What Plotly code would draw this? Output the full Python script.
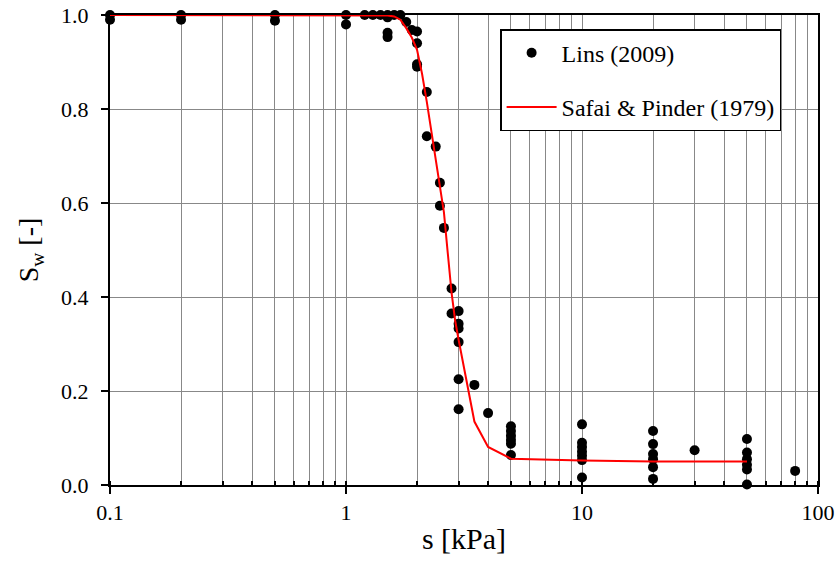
import plotly.graph_objects as go

# Measured data (Lins 2009)
lins_s = [0.1, 0.1, 0.2, 0.2, 0.5, 0.5, 1.0, 1.0,
          1.2, 1.3, 1.4, 1.5, 1.5, 1.6, 1.7, 1.5, 1.5, 1.8,
          1.9, 2.0, 2.0, 2.0, 2.0, 2.2, 2.2, 2.4, 2.5, 2.5, 2.6,
          2.8, 2.8, 3.0, 3.0, 3.0, 3.0, 3.0, 3.0, 3.5, 4.0,
          5, 5, 5, 5, 5, 5,
          10, 10, 10, 10, 10, 10, 10,
          20, 20, 20, 20, 20, 20,
          30,
          50, 50, 50, 50, 50, 50,
          80]
lins_sw = [1.0, 0.99, 1.0, 0.99, 1.0, 0.988, 1.0, 0.98,
           1.0, 1.0, 1.0, 1.0, 0.995, 1.0, 1.0, 0.962, 0.953, 0.985,
           0.968, 0.965, 0.94, 0.895, 0.89, 0.836, 0.742, 0.72, 0.643, 0.594, 0.547,
           0.418, 0.365, 0.37, 0.343, 0.333, 0.304, 0.225, 0.161, 0.213, 0.153,
           0.125, 0.115, 0.105, 0.096, 0.088, 0.064,
           0.129, 0.09, 0.081, 0.071, 0.062, 0.053, 0.016,
           0.115, 0.087, 0.066, 0.055, 0.038, 0.013,
           0.074,
           0.098, 0.069, 0.055, 0.043, 0.033, 0.001,
           0.03]

# Model curve (Safai & Pinder 1979)
model_s = [0.1, 0.2, 0.5, 1.0, 1.2, 1.4, 1.5, 1.6, 1.7, 1.8, 1.9, 2.0, 2.1, 2.2,
           2.3, 2.4, 2.5, 2.6, 2.7, 2.8, 2.9, 3.0, 3.5, 4.0, 5.0, 10, 20, 50]
model_sw = [1.0, 1.0, 1.0, 1.0, 1.0, 1.0, 0.999, 0.997, 0.99, 0.972, 0.952, 0.926,
            0.875, 0.815, 0.755, 0.695, 0.635, 0.58, 0.493, 0.41, 0.35, 0.309,
            0.135, 0.081, 0.056, 0.052, 0.05, 0.05]

x_tickvals = [0.1, 1, 10, 100]
x_ticktext = ["0.1", "1", "10", "100"]
y_tickvals = [0.0, 0.2, 0.4, 0.6, 0.8, 1.0]

font_family = "Liberation Serif"

fig = go.Figure()
fig.add_trace(go.Scatter(
    x=lins_s, y=lins_sw, mode="markers", name="Lins (2009)",
    marker=dict(color="black", size=10), cliponaxis=False,
    legendgroup="a"))
fig.add_trace(go.Scatter(
    x=model_s, y=model_sw, mode="lines", name="Safai & Pinder (1979)",
    line=dict(color="red", width=2), cliponaxis=False,
    legendgroup="b"))

fig.update_layout(
    width=836, height=561,
    margin=dict(l=110, r=18, t=15, b=76, autoexpand=False),
    paper_bgcolor="white", plot_bgcolor="white",
    font=dict(family=font_family, size=22, color="black"),
    showlegend=True,
    legend=dict(x=0.551, y=0.970, xanchor="left", yanchor="top",
                bgcolor="white", bordercolor="black", borderwidth=1.5,
                font=dict(size=24, family=font_family, color="black"),
                traceorder="grouped", tracegroupgap=20,
                itemwidth=50),
    xaxis=dict(
        type="log", range=[-1, 2], automargin=False,
        tickvals=x_tickvals, ticktext=x_ticktext,
        tickfont=dict(family=font_family, size=22, color="black"),
        ticks="outside", ticklen=7, tickcolor="black", tickwidth=1.5,
        showline=True, linecolor="black", linewidth=2, mirror=True,
        showgrid=True, gridcolor="#888888", gridwidth=1,
        minor=dict(dtick="D1", showgrid=True, gridcolor="#888888", gridwidth=1,
                   ticks="inside", ticklen=4, tickcolor="black"),
        title=dict(text="s [kPa]", font=dict(size=30, family=font_family, color="black"), standoff=4),
        zeroline=False,
    ),
    yaxis=dict(
        range=[0, 1.0], tickvals=y_tickvals, tickformat=".1f", automargin=False,
        tickfont=dict(family=font_family, size=22, color="black"),
        ticks="outside", ticklen=7, tickcolor="black", tickwidth=1.5,
        ticklabelstandoff=8,
        showline=True, linecolor="black", linewidth=2, mirror=True,
        showgrid=True, gridcolor="#888888", gridwidth=1,
        title=dict(text="S<sub>w</sub> [-]", font=dict(size=28, family=font_family, color="black"), standoff=14),
        zeroline=False,
    ),
)

fig.write_html("out.html")
